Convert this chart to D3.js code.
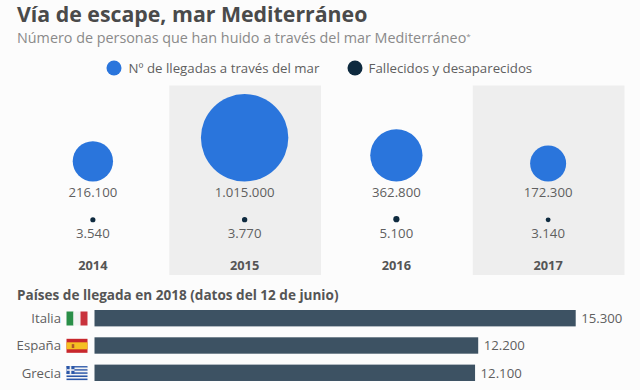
<!DOCTYPE html>
<html lang="es">
<head>
<meta charset="utf-8">
<script src="https://cdn.jsdelivr.net/npm/d3@7"></script>
<style>
	html, body { margin: 0; padding: 0; background: #fcfcfc; }
	svg { display: block; font-family: 'Open Sans', sans-serif; }
</style>
</head>
<body>
<svg class="chart"></svg>
<script>
const years = ['2014', '2015', '2016', '2017']
const arrivals = [216100, 1015000, 362800, 172300]
const arrivalLabels = ['216.100', '1.015.000', '362.800', '172.300']
const deaths = [3540, 3770, 5100, 3140]
const deathLabels = ['3.540', '3.770', '5.100', '3.140']

const countries = ['Italia', 'España', 'Grecia']
const countryValues = [15300, 12200, 12100]
const countryLabels = ['15.300', '12.200', '12.100']

const width = 640,
	height = 390

const blue = '#2a75dc'
const navy = '#0e2a3f'
const barColor = '#3d5263'
const textColor = '#5f5f5f'

const svg = d3.select('.chart').attr('width', width).attr('height', height)

svg.append('rect').attr('width', width).attr('height', height).attr('fill', '#fcfcfc')

// titulos
svg.append('text').attr('x', 17).attr('y', 22).attr('font-size', 21.3).attr('font-weight', 700).attr('fill', '#4a4a4a')
	.text('Vía de escape, mar Mediterráneo')
svg.append('text').attr('x', 17).attr('y', 43).attr('font-size', 14.35).attr('fill', '#8a8a8a')
	.text('Número de personas que han huido a través del mar Mediterráneo')
	.append('tspan').attr('font-size', 8).attr('dy', -4).text('*')

// leyenda
const legend = [
	{ label: 'Nº de llegadas a través del mar', color: blue, x: 114, tx: 128.6 },
	{ label: 'Fallecidos y desaparecidos', color: navy, x: 355, tx: 368.6 },
]
const legendItems = svg.selectAll('.legend').data(legend).enter().append('g').attr('class', 'legend')
legendItems.append('circle').attr('cx', d => d.x).attr('cy', 68).attr('r', 7.5).attr('fill', d => d.color)
legendItems.append('text').attr('x', d => d.tx).attr('y', 73).attr('font-size', 13.25).attr('fill', textColor)
	.text(d => d.label)

// columnas por año
const scaleX = d3.scaleBand().domain(years).range([17, 624]).paddingInner(0).paddingOuter(0)
const scaleR = d3.scaleSqrt().domain([0, 1015000]).range([0, 43.7])

const bubbleBase = 181.5
const smallBase = 222.3

const columns = svg.selectAll('.column').data(years).enter().append('g').attr('class', 'column')

columns.filter((d, i) => i % 2 === 1).append('rect')
	.attr('x', d => scaleX(d) + 0.5)
	.attr('y', 85.5)
	.attr('width', scaleX.bandwidth())
	.attr('height', 189.5)
	.attr('fill', '#eeeeee')

const centerX = d => scaleX(d) + scaleX.bandwidth() / 2

columns.append('circle')
	.attr('cx', centerX)
	.attr('cy', (d, i) => bubbleBase - scaleR(arrivals[i]))
	.attr('r', (d, i) => scaleR(arrivals[i]))
	.attr('fill', blue)
columns.append('text')
	.attr('x', centerX).attr('y', 197).attr('text-anchor', 'middle').attr('font-size', 13.2).attr('fill', textColor)
	.text((d, i) => arrivalLabels[i])
columns.append('circle')
	.attr('cx', centerX)
	.attr('cy', (d, i) => smallBase - scaleR(deaths[i]))
	.attr('r', (d, i) => scaleR(deaths[i]))
	.attr('fill', navy)
columns.append('text')
	.attr('x', centerX).attr('y', 238).attr('text-anchor', 'middle').attr('font-size', 13.2).attr('fill', textColor)
	.text((d, i) => deathLabels[i])
columns.append('text')
	.attr('x', centerX).attr('y', 270).attr('text-anchor', 'middle').attr('font-size', 12.8).attr('font-weight', 700).attr('fill', '#555555')
	.text(d => d)

// paises de llegada
svg.append('text').attr('x', 17).attr('y', 300).attr('font-size', 13.55).attr('font-weight', 700).attr('fill', '#555555')
	.text('Países de llegada en 2018 (datos del 12 de junio)')

const barX = d3.scaleLinear().domain([0, 15300]).range([94.5, 575.7])
const barY = d3.scaleBand().domain(countries).range([310, 381]).paddingInner(0.4).paddingOuter(0)

svg.selectAll('.bar').data(countries).enter().append('rect').attr('class', 'bar')
	.attr('x', barX(0))
	.attr('y', d => barY(d))
	.attr('width', (d, i) => barX(countryValues[i]) - barX(0))
	.attr('height', barY.bandwidth())
	.attr('fill', barColor)

svg.selectAll('.country').data(countries).enter().append('text').attr('class', 'country')
	.attr('x', 61).attr('y', d => barY(d) + 13).attr('text-anchor', 'end').attr('font-size', 13.2).attr('fill', textColor)
	.text(d => d)

svg.selectAll('.value').data(countries).enter().append('text').attr('class', 'value')
	.attr('x', (d, i) => barX(countryValues[i]) + 5.5).attr('y', d => barY(d) + 13).attr('font-size', 13.2).attr('fill', textColor)
	.text((d, i) => countryLabels[i])

// banderas
const flagW = 21,
	flagH = 14
const flags = svg.selectAll('.flag').data(countries).enter().append('g').attr('class', 'flag')
	.attr('transform', d => `translate(66.5,${barY(d) + 1.5})`)

const stripes = (sel, colors) => sel.each(function () {
	colors.forEach(s => {
		d3.select(this).append('rect')
			.attr('x', s[0] * flagW).attr('y', s[1] * flagH)
			.attr('width', s[2] * flagW).attr('height', s[3] * flagH)
			.attr('fill', s[4])
	})
})

stripes(flags.filter(d => d === 'Italia'), [
	[0, 0, 1 / 3, 1, '#2a8f48'],
	[1 / 3, 0, 1 / 3, 1, '#f3f3f3'],
	[2 / 3, 0, 1 / 3, 1, '#c9323c'],
])
stripes(flags.filter(d => d === 'España'), [
	[0, 0, 1, 1, '#c8272c'],
	[0, 0.25, 1, 0.5, '#f5c022'],
	[0.25, 0.38, 0.12, 0.28, '#b0562a'],
])
const greekRows = d3.range(9).map(i => [0, i / 9, 1, 1 / 9, i % 2 ? '#f3f3f3' : '#2a56a8'])
stripes(flags.filter(d => d === 'Grecia'), greekRows.concat([
	[0, 0, 0.38, 5 / 9, '#2a56a8'],
	[0.15, 0, 0.08, 5 / 9, '#f3f3f3'],
	[0, 2 / 9, 0.38, 1 / 9, '#f3f3f3'],
]))
</script>
</body>
</html>
